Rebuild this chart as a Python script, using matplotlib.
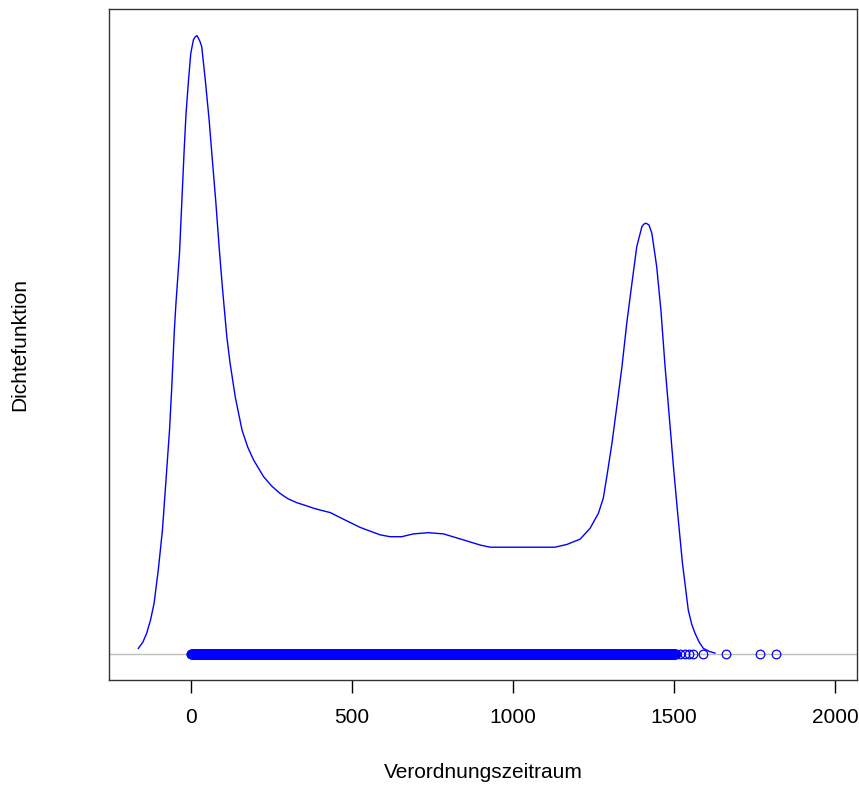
import numpy as np
import matplotlib
matplotlib.use("Agg")
import matplotlib.pyplot as plt

plt.rcParams['font.family'] = ['Liberation Sans', 'DejaVu Sans']

# Density curve (x in days, density in 1e-3 units)
dens_x = [-164, -150, -138, -126, -115, -102, -89, -78, -67, -60, -52, -47, -36, -29,
          -22, -16, -8, -1, 5, 7, 12, 18, 23, 28, 33, 44, 56, 66, 77, 87, 97, 111,
          121, 137, 158, 176, 194, 225, 250, 276, 300, 328, 355, 380, 405, 432, 480,
          525, 587, 618, 654, 690, 737, 784, 835, 898, 929, 1000, 1063, 1130, 1167,
          1208, 1239, 1265, 1280, 1291, 1307, 1322, 1338, 1353, 1369, 1384, 1400,
          1406, 1413, 1422, 1431, 1446, 1459, 1472, 1485, 1498, 1512, 1526, 1544,
          1555, 1565, 1578, 1591, 1610, 1627]
dens_y = [0.018, 0.038, 0.067, 0.110, 0.164, 0.271, 0.401, 0.562, 0.724, 0.864,
          1.047, 1.134, 1.296, 1.457, 1.619, 1.742, 1.855, 1.941, 1.973, 1.984,
          1.993, 1.998, 1.989, 1.978, 1.962, 1.855, 1.725, 1.596, 1.457, 1.315,
          1.186, 1.024, 0.940, 0.831, 0.724, 0.668, 0.627, 0.573, 0.543, 0.519,
          0.502, 0.489, 0.480, 0.471, 0.464, 0.457, 0.432, 0.409, 0.385, 0.379,
          0.379, 0.388, 0.392, 0.388, 0.372, 0.352, 0.345, 0.345, 0.345, 0.345,
          0.354, 0.371, 0.406, 0.455, 0.503, 0.573, 0.681, 0.799, 0.928, 1.069,
          1.198, 1.316, 1.381, 1.389, 1.392, 1.386, 1.359, 1.251, 1.111, 0.928,
          0.767, 0.605, 0.444, 0.293, 0.142, 0.095, 0.067, 0.038, 0.018, 0.008,
          0.003]

# Observations (shown as points on the zero line)
obs_dense_min = 0      # observations cover every day from here ...
obs_dense_max = 1505   # ... up to here
obs_sparse = [1519, 1534, 1547, 1559, 1591, 1661, 1767, 1817]

x_ticks = [0, 500, 1000, 1500, 2000]
x_label = "Verordnungszeitraum"
y_label = "Dichtefunktion"

fig = plt.figure(figsize=(8.59, 7.87), dpi=100)
ax = fig.add_axes([109/859, 1-680/787, (857-109)/859, (680-9)/787])

ax.axhline(0, color='#BEBEBE', lw=1.0, zorder=1)
ax.plot(dens_x, np.array(dens_y) * 1e-3, color='#0000FF', lw=1.0, zorder=2,
        solid_joinstyle='round')
obs = np.concatenate([np.arange(obs_dense_min, obs_dense_max + 1), obs_sparse])
ax.plot(obs, np.zeros_like(obs), linestyle='none', marker='o', ms=6.2,
        mfc='none', mec='#0000FF', mew=0.9, zorder=3)

ax.set_xlim(-255, 2068)
ax.set_ylim(-0.084e-3, 2.084e-3)
ax.set_xticks(x_ticks)
ax.set_xticklabels([str(t) for t in x_ticks])
ax.set_yticks([])
ax.tick_params(axis='x', length=9, width=1, pad=11, labelsize=15, colors='black')
for s in ax.spines.values():
    s.set_color('#333333')
    s.set_linewidth(1.0)

ax.set_xlabel(x_label, fontsize=15)
ax.xaxis.set_label_coords(0.5, (680-773)/671)
ax.xaxis.label.set_va('center')
ax.set_ylabel(y_label, fontsize=15)
ax.yaxis.set_label_coords((20-109)/748, 0.5)
ax.yaxis.label.set_va('center')

fig.savefig("out.png", dpi=100)
